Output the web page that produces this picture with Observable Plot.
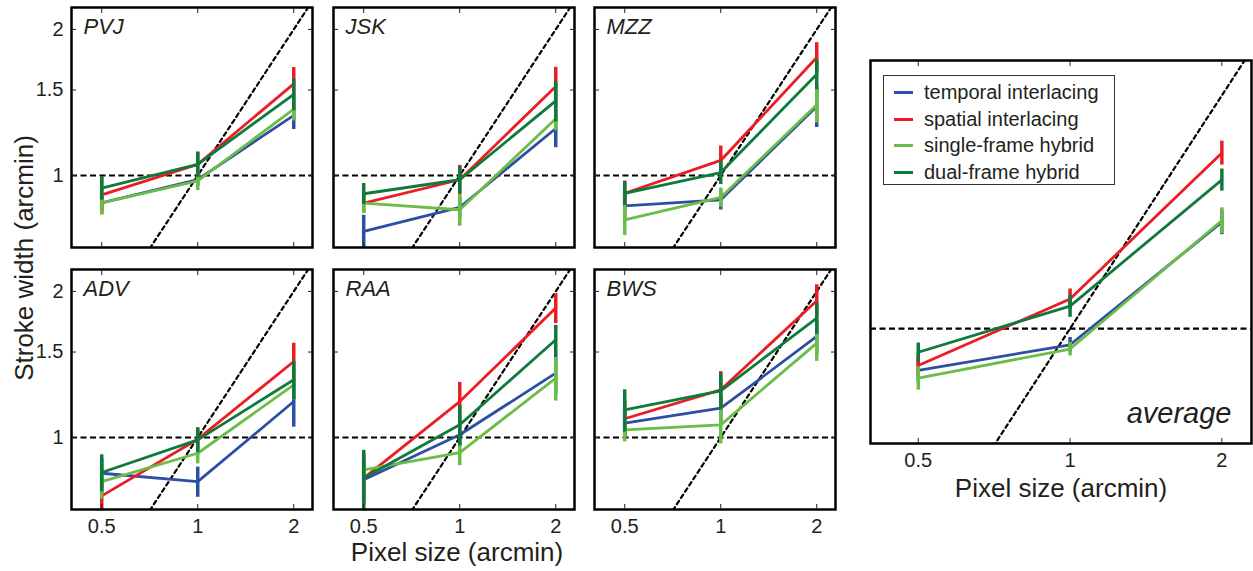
<!DOCTYPE html>
<html><head><meta charset="utf-8">
<script src="https://cdn.jsdelivr.net/npm/d3@7"></script>
<script src="https://cdn.jsdelivr.net/npm/@observablehq/plot@0.6"></script>
<style>
body{margin:0;background:#fff;}
#fig{position:relative;width:1253px;height:571px;overflow:hidden;font-family:"Liberation Sans",Arial,Helvetica,sans-serif;color:#231f20;background:#fff;}
#fig svg{position:absolute;overflow:visible;background:transparent !important;max-width:none !important;}
.lab{position:absolute;font-size:26px;white-space:nowrap;line-height:1;}
#legend{position:absolute;left:883px;top:75px;width:232px;height:110px;border:1px solid #333;background:#fff;box-sizing:border-box;}
#legend .row{position:absolute;left:0;height:27px;font-size:20px;line-height:27px;white-space:nowrap;}
#legend .sw{position:absolute;left:10px;top:12px;width:19px;height:3px;}
#legend .tx{position:absolute;left:40px;top:0;}
</style></head><body><div id="fig"></div>
<script>
// ---------- data ----------
const pixelSizes = [0.5, 1, 2];           // arcmin
const xTicks = [0.5, 1, 2];
const xTickLabels = ["0.5", "1", "2"];
const yTicks = [1, 1.5, 2];
const yTickLabels = ["1", "1.5", "2"];
const methods = ["temporal interlacing", "spatial interlacing", "single-frame hybrid", "dual-frame hybrid"];
const colors = ["#2d4fa3", "#ec1c24", "#6abd45", "#0e7a3b"];
const panels = ["PVJ", "JSK", "MZZ", "ADV", "RAA", "BWS", "average"];

// mean stroke width (arcmin), rows = panels above, columns = pixel sizes
const temporalMeans = [[0.878,0.981,1.33],[0.767,0.86,1.25],[0.866,0.891,1.388],[0.844,0.811,1.186],[0.818,1.013,1.357],[1.07,1.149,1.615],[0.883,0.953,1.372]];
const spatialMeans  = [[0.912,1.054,1.545],[0.877,0.98,1.526],[0.919,1.074,1.75],[0.758,0.992,1.434],[0.825,1.186,1.848],[1.093,1.254,1.913],[0.896,1.092,1.686]];
const singleMeans   = [[0.878,0.975,1.37],[0.877,0.85,1.309],[0.81,0.901,1.399],[0.811,0.928,1.284],[0.858,0.931,1.325],[1.037,1.062,1.565],[0.863,0.941,1.379]];
const dualMeans     = [[0.942,1.054,1.47],[0.917,0.98,1.425],[0.919,1.014,1.617],[0.847,0.989,1.315],[0.825,1.062,1.59],[1.14,1.248,1.762],[0.932,1.069,1.556]];

// error-bar half widths (arcmin)
const temporalErr = [[0.035,0.03,0.086],[0.061,0.043,0.109],[0.058,0.042,0.132],[0.06,0.058,0.136],[0.082,0.051,0.129],[0.075,0.072,0.129],[0.029,0.021,0.05]];
const spatialErr  = [[0.082,0.063,0.124],[0.041,0.069,0.145],[0.055,0.076,0.128],[0.063,0.047,0.13],[0.099,0.113,0.131],[0.095,0.113,0.151],[0.029,0.033,0.06]];
const singleErr   = [[0.048,0.044,0.075],[0.041,0.064,0.072],[0.058,0.041,0.116],[0.065,0.046,0.09],[0.069,0.056,0.136],[0.057,0.092,0.13],[0.03,0.019,0.053]];
const dualErr     = [[0.052,0.063,0.11],[0.046,0.062,0.135],[0.051,0.056,0.115],[0.074,0.059,0.12],[0.116,0.101,0.113],[0.114,0.109,0.132],[0.026,0.035,0.051]];

const xDomain = [0.402, 2.29];
const yDomain = [0.7106, 2.219];

// ---------- drawing ----------
const means = [temporalMeans, spatialMeans, singleMeans, dualMeans];
const errs = [temporalErr, spatialErr, singleErr, dualErr];
const fig = document.getElementById("fig");
const FONT = '"Liberation Sans", Arial, Helvetica, sans-serif';
const INK = "#231f20";
const hDash = {stroke: "#000", strokeWidth: 2.2, strokeDasharray: "6,3.5"};
const dDash = {stroke: "#000", strokeWidth: 2.2, strokeDasharray: "4,3.5"};

function rowsFor(p) {
  return methods.flatMap((m, k) => pixelSizes.map((x, i) => ({method: m, k, x, y: means[k][p][i], e: errs[k][p][i]})));
}

function drawPanel(p, fx, fy, fw, fh, opts) {
  const mL = 60, mR = 10, mT = 10, mB = 45;
  const rows = rowsFor(p);
  const marks = [
    Plot.ruleY([1], hDash),
    Plot.line(xDomain, {x: d => d, y: d => d, clip: true, ...dDash})
  ];
  methods.forEach((m, k) => {
    const r = rows.filter(d => d.k === k);
    marks.push(Plot.line(r, {x: "x", y: "y", stroke: colors[k], strokeWidth: 2.8, clip: true}));
    marks.push(Plot.ruleX(r, {x: "x", y1: d => d.y - d.e, y2: d => d.y + d.e, stroke: colors[k], strokeWidth: 3.5, strokeLinecap: "butt", clip: true}));
  });
  marks.push(Plot.frame({stroke: "#000", strokeWidth: 2.5}));
  // inward tick marks
  marks.push(Plot.axisX(xTicks, {anchor: "bottom", tickSize: -5, label: null, tickFormat: () => ""}));
  marks.push(Plot.axisX(xTicks, {anchor: "top", tickSize: -5, label: null, tickFormat: () => ""}));
  if (opts.yTicks) {
    marks.push(Plot.axisY(yTicks, {anchor: "left", tickSize: -5, label: null, tickFormat: () => ""}));
    marks.push(Plot.axisY(yTicks, {anchor: "right", tickSize: -5, label: null, tickFormat: () => ""}));
  }
  // tick labels
  if (opts.xLabels) {
    marks.push(Plot.text(xTicks, {x: d => d, text: (d, i) => xTickLabels[i], frameAnchor: "bottom", dy: 9,
      lineAnchor: "top", fontSize: 20, fill: INK}));
  }
  if (opts.yLabels) {
    marks.push(Plot.text(yTicks, {y: d => d, text: (d, i) => yTickLabels[i], frameAnchor: "left", dx: -8,
      textAnchor: "end", lineAnchor: "middle", fontSize: 20, fill: INK}));
  }
  if (opts.title === "average") {
    marks.push(Plot.text([opts.title], {frameAnchor: "bottom-right", dx: -20, dy: -30, textAnchor: "end", lineAnchor: "middle",
      fontSize: 29, fontStyle: "italic", fill: INK}));
  } else {
    marks.push(Plot.text([opts.title], {frameAnchor: "top-left", dx: 12, dy: 11, textAnchor: "start", lineAnchor: "top",
      fontSize: 22, fontStyle: "italic", fill: INK}));
  }
  const svg = Plot.plot({
    width: fw + mL + mR, height: fh + mT + mB,
    marginLeft: mL, marginRight: mR, marginTop: mT, marginBottom: mB,
    x: {type: "log", domain: xDomain, axis: null},
    y: {type: "log", domain: yDomain, axis: null},
    style: {fontFamily: FONT, fontSize: "20px", color: INK, background: "transparent", overflow: "visible"},
    marks
  });
  svg.style.left = (fx - mL) + "px";
  svg.style.top = (fy - mT) + "px";
  fig.appendChild(svg);
}

const colX = [71, 333, 594];
const rowY = [7, 269];
for (let p = 0; p < 6; p++) {
  const c = p % 3, r = Math.floor(p / 3);
  drawPanel(p, colX[c], rowY[r], 241, 240, {title: panels[p], xLabels: r === 1, yLabels: c === 0, yTicks: true});
}
drawPanel(6, 870, 60, 381, 383, {title: "average", xLabels: true, yLabels: false, yTicks: false});

// axis titles
function label(text, x, y, rotate) {
  const d = document.createElement("div");
  d.className = "lab";
  d.textContent = text;
  d.style.left = x + "px";
  d.style.top = y + "px";
  d.style.transform = "translate(-50%,-50%)" + (rotate ? " rotate(-90deg)" : "");
  fig.appendChild(d);
}
label("Stroke width (arcmin)", 24, 258, true);
label("Pixel size (arcmin)", 457, 552, false);
label("Pixel size (arcmin)", 1061, 488, false);

// legend
const lg = document.createElement("div");
lg.id = "legend";
methods.forEach((m, k) => {
  const row = document.createElement("div");
  row.className = "row";
  row.style.top = (3 + k * 26.5) + "px";
  const sw = document.createElement("div");
  sw.className = "sw"; sw.style.background = colors[k];
  const tx = document.createElement("div");
  tx.className = "tx"; tx.textContent = m;
  row.appendChild(sw); row.appendChild(tx);
  lg.appendChild(row);
});
fig.appendChild(lg);
</script></body></html>
